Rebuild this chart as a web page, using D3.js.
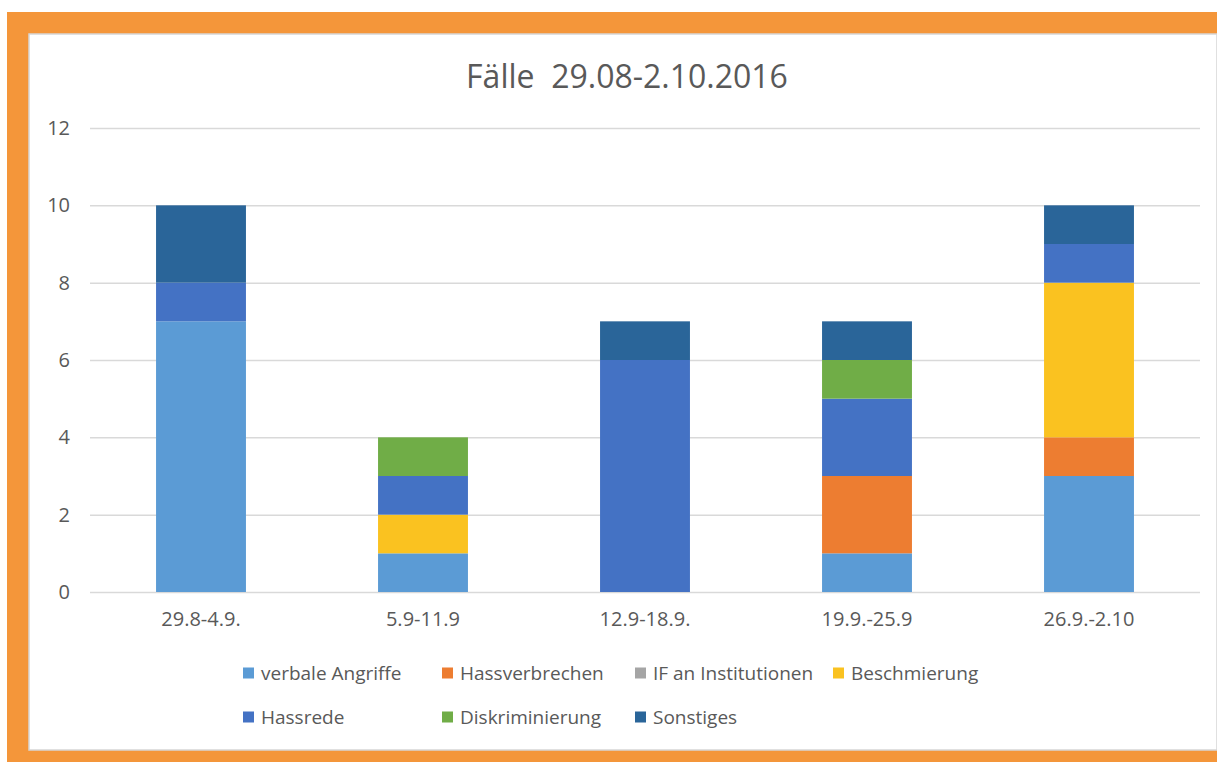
<!DOCTYPE html>
<meta charset="utf-8">
<script src="https://d3js.org/d3.v7.min.js"></script>
<style>
  body { margin: 0; background: #fff; }
  text { font-family: "Open Sans", sans-serif; fill: #595959; }
</style>
<div id="my_dataviz"></div>
<script>

  // data
  var weeks = ["29.8-4.9.", "5.9-11.9", "12.9-18.9.", "19.9.-25.9", "26.9.-2.10"];
  var categories = ["verbale Angriffe", "Hassverbrechen", "IF an Institutionen", "Beschmierung",
                    "Hassrede", "Diskriminierung", "Sonstiges"];
  var verbaleAngriffe    = [7, 1, 0, 1, 3];
  var hassverbrechen     = [0, 0, 0, 2, 1];
  var ifInstitutionen    = [0, 0, 0, 0, 0];
  var beschmierung       = [0, 1, 0, 0, 4];
  var hassrede           = [1, 1, 6, 2, 1];
  var diskriminierung    = [0, 1, 0, 1, 0];
  var sonstiges          = [2, 0, 1, 1, 1];
  var yTicks = [0, 2, 4, 6, 8, 10, 12];
  var colors = ["#5B9BD5", "#ED7D31", "#A5A5A5", "#FAC220", "#4472C4", "#70AD47", "#2A6599"];

  var series = [verbaleAngriffe, hassverbrechen, ifInstitutionen, beschmierung,
                hassrede, diskriminierung, sonstiges];

  // table for d3.stack
  var table = weeks.map(function (w, i) {
    var row = {week: w};
    categories.forEach(function (c, j) { row[c] = series[j][i]; });
    return row;
  });

  var W = 1217, H = 762;
  var svg = d3.select("#my_dataviz")
    .append("svg")
      .attr("width", W)
      .attr("height", H);

  // orange frame + white card
  svg.append("rect").attr("x", 7).attr("y", 12).attr("width", W - 7).attr("height", H - 12)
    .attr("fill", "#F4963A");
  svg.append("rect").attr("x", 29).attr("y", 34).attr("width", W - 29).attr("height", 716)
    .attr("fill", "#fff").attr("stroke", "#d6d6d6").attr("stroke-width", 1.5);

  // title
  svg.append("text")
    .attr("x", 627).attr("y", 88)
    .attr("text-anchor", "middle")
    .style("font-size", "32px")
    .style("white-space", "pre")
    .text("Fälle  29.08-2.10.2016");

  var x = d3.scaleBand()
    .domain(weeks)
    .range([90, 1200])
    .paddingInner(0.595)
    .paddingOuter(0.2975);

  var y = d3.scaleLinear()
    .domain([0, 12])
    .range([592, 128]);

  // gridlines + y labels
  var yAxis = svg.append("g")
    .attr("transform", "translate(90,0)")
    .call(d3.axisLeft(y).tickValues(yTicks).tickSize(-1110).tickPadding(20).tickFormat(d3.format("d")));
  yAxis.select(".domain").remove();
  yAxis.selectAll("line").attr("stroke", "#d9d9d9").attr("stroke-width", 1.5);
  yAxis.selectAll("text").style("font-size", "20px").style("fill", "#595959");

  // stacked bars
  var stacked = d3.stack().keys(categories)(table);
  svg.append("g")
    .selectAll("g")
    .data(stacked)
    .enter()
    .append("g")
      .attr("fill", function (d, i) { return colors[i]; })
    .selectAll("rect")
    .data(function (d) { return d; })
    .enter()
    .append("rect")
      .attr("x", function (d) { return x(d.data.week); })
      .attr("y", function (d) { return y(d[1]); })
      .attr("width", x.bandwidth())
      .attr("height", function (d) { return y(d[0]) - y(d[1]); });

  // x labels
  var xAxis = svg.append("g")
    .attr("transform", "translate(0,592)")
    .call(d3.axisBottom(x).tickSize(0).tickPadding(20));
  xAxis.select(".domain").remove();
  xAxis.selectAll("text").style("font-size", "20px").style("fill", "#595959");

  // legend, wrapped into two rows like the original
  var legendCols = [243, 442, 635, 833];
  var legendRows = [673, 717];
  var legend = svg.append("g")
    .selectAll("g")
    .data(categories)
    .enter()
    .append("g")
      .attr("transform", function (d, i) {
        return "translate(" + legendCols[i % 4] + "," + legendRows[Math.floor(i / 4)] + ")";
      });
  legend.append("rect")
    .attr("x", 0).attr("y", -5.5)
    .attr("width", 11).attr("height", 11)
    .attr("fill", function (d, i) { return colors[i]; });
  legend.append("text")
    .attr("x", 18).attr("dy", "0.35em")
    .style("font-size", "19px")
    .text(function (d) { return d; });

</script>
